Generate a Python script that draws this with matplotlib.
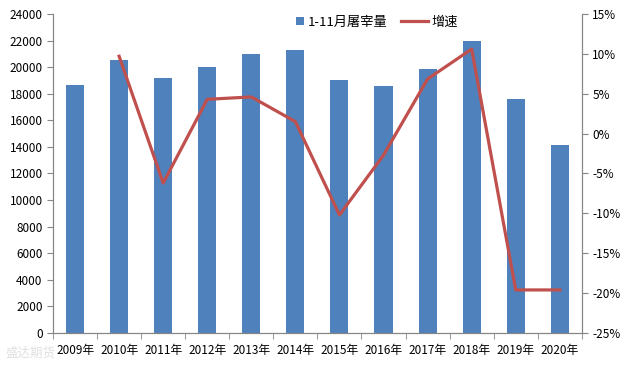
import numpy as np
import matplotlib
matplotlib.use("Agg")
import matplotlib.pyplot as plt
from matplotlib.patches import Rectangle
from matplotlib.legend_handler import HandlerPatch
from matplotlib.ticker import FuncFormatter, FixedLocator

plt.rcParams['font.family'] = ['Noto Sans CJK SC', 'DejaVu Sans']

# data
years = ["2009年", "2010年", "2011年", "2012年", "2013年", "2014年",
         "2015年", "2016年", "2017年", "2018年", "2019年", "2020年"]
slaughter = [18660, 20540, 19190, 20015, 20990, 21290,
             19040, 18590, 19860, 21970, 17600, 14150]
growth = [np.nan, 9.7, -6.2, 4.3, 4.6, 1.5,
          -10.2, -2.7, 6.85, 10.6, -19.6, -19.6]

bar_color = "#4F81BD"
line_color = "#C0504D"
axis_color = "#868686"

fig = plt.figure(figsize=(6.29, 3.68), dpi=100)
ax = fig.add_axes([0.0843, 0.0951, 0.8407, 0.8669])
ax2 = ax.twinx()

x = np.arange(len(years))
bars = ax.bar(x, slaughter, width=0.41, color=bar_color, label="1-11月屠宰量", zorder=2)
line, = ax2.plot(x, growth, color=line_color, lw=2.3, label="增速", zorder=3)

ax.set_xlim(-0.5, len(years) - 0.5)
ax.set_ylim(0, 24000)
ax.set_yticks(range(0, 24001, 2000))
ax2.set_ylim(-25, 15)
ax2.set_yticks(range(-25, 16, 5))
ax2.yaxis.set_major_formatter(FuncFormatter(lambda v, p: f"{v:.0f}%"))

ax.set_xticks(x)
ax.set_xticklabels(years)
ax.xaxis.set_minor_locator(FixedLocator(np.arange(-0.5, len(years), 1.0)))
ax.tick_params(axis="x", which="major", length=0, labelsize=8.5, pad=8)
ax.tick_params(axis="x", which="minor", length=4, color=axis_color)
ax.tick_params(axis="y", length=4, color=axis_color, labelsize=8.5)
ax2.tick_params(axis="y", length=4, color=axis_color, labelsize=8.5)

for a in (ax, ax2):
    a.spines["top"].set_visible(False)
    for s in ("left", "right", "bottom"):
        a.spines[s].set_color(axis_color)

ax.set_zorder(ax2.get_zorder() - 1)
ax2.patch.set_visible(False)


# small square legend key for the bars, sitting at the right of its slot
def square_key(legend, orig_handle, xdescent, ydescent, width, height, fontsize):
    s = height * 1.0
    return Rectangle((width - s - xdescent, -ydescent + (height - s) / 2), s, s)


bar_handle = bars.patches[0]
fig.legend([bar_handle, line], ["1-11月屠宰量", "增速"], loc="upper center",
           bbox_to_anchor=(0.585, 0.99), ncol=2, frameon=False, fontsize=9.5,
           handlelength=2.0, handleheight=0.6, columnspacing=1.0, handletextpad=0.3,
           handler_map={bar_handle: HandlerPatch(patch_func=square_key)})

# faint watermark in the lower left
fig.text(0.008, 0.03, "盛达期货", color="#E0E0E0", fontsize=9, zorder=0)

fig.savefig("out.png", dpi=100)
